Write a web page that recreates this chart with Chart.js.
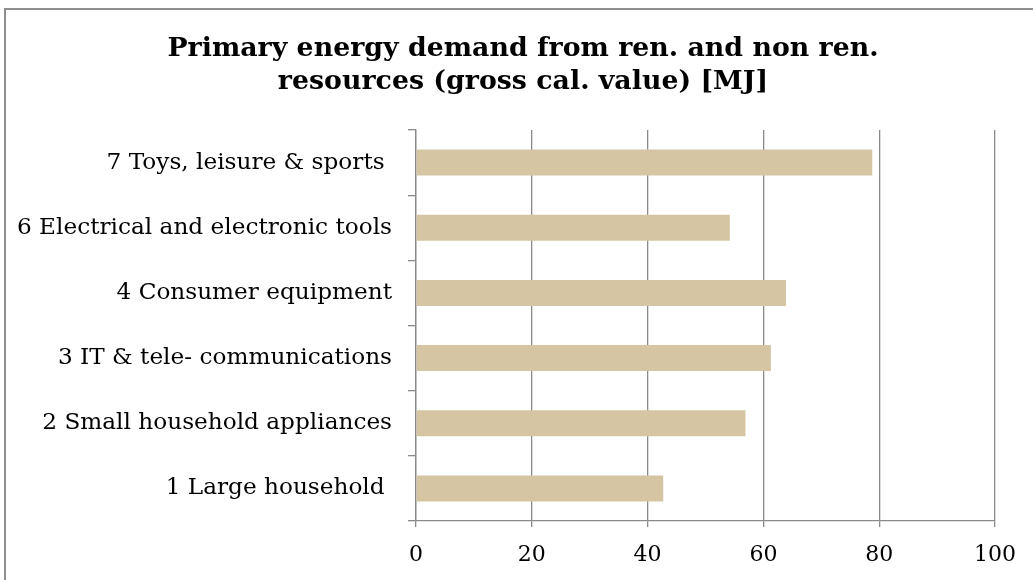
<!DOCTYPE html>
<html>
<head>
<meta charset="utf-8">
<script src="https://cdn.jsdelivr.net/npm/chart.js@4.4.0/dist/chart.umd.min.js"></script>
<style>
  html, body { margin: 0; padding: 0; background: #fff; overflow: hidden; }
  #frame { position: absolute; left: 4px; top: 8px; width: 1100px; height: 700px; border: 2px solid #8f8f8f; }
  #wrap { position: absolute; left: 0; top: 0; width: 1033px; height: 580px; }
</style>
</head>
<body>
<div id="frame"></div>
<div id="wrap"><canvas id="c" width="1033" height="580"></canvas></div>
<script>
const titleLines = ["Primary energy demand from ren. and non ren.", "resources (gross cal. value) [MJ]"];
const categories = [
  "7 Toys, leisure & sports ",
  "6 Electrical and electronic tools",
  "4 Consumer equipment",
  "3 IT & tele- communications",
  "2 Small household appliances",
  "1 Large household "
];
const values = [78.8, 54.2, 63.9, 61.3, 56.9, 42.7];
const xTicks = [0, 20, 40, 60, 80, 100];

const FONT = "'DejaVu Serif', Georgia, serif";
const GRID = '#8a8a8a';

new Chart(document.getElementById('c'), {
  type: 'bar',
  data: {
    labels: categories,
    datasets: [{
      data: values,
      backgroundColor: '#d5c5a3',
      borderWidth: 0,
      barPercentage: 0.4,
      categoryPercentage: 1.0
    }]
  },
  options: {
    indexAxis: 'y',
    responsive: false,
    animation: false,
    devicePixelRatio: 1,
    layout: { padding: { left: 13, right: 0, top: 0, bottom: 0 } },
    plugins: {
      legend: { display: false },
      tooltip: { enabled: false },
      title: {
        display: true,
        text: titleLines,
        color: '#000',
        font: { family: FONT, size: 26.8, weight: 'bold', lineHeight: 1.25 },
        padding: { top: 32, bottom: 31 }
      }
    },
    scales: {
      x: {
        type: 'linear',
        min: 0,
        max: 100,
        afterBuildTicks: (s) => { s.ticks = xTicks.map(v => ({ value: v })); },
        afterFit: (s) => { s.height = 59; },
        grid: { color: GRID, lineWidth: 1.3, tickLength: 6, drawTicks: true },
        border: { display: true, color: GRID, width: 1.3 },
        ticks: { color: '#000', font: { family: FONT, size: 22 }, padding: 15 }
      },
      y: {
        afterFit: (s) => { s.width = 403; },
        grid: { drawOnChartArea: false, drawTicks: true, tickLength: 8, color: GRID, lineWidth: 1.3, offset: true },
        border: { display: true, color: GRID, width: 1.3 },
        ticks: { color: '#000', font: { family: FONT, size: 23.2 }, padding: 16 }
      },
      spacer: {
        type: 'category',
        position: 'right',
        afterFit: (s) => { s.width = 38; },
        grid: { display: false, drawTicks: false },
        border: { display: false },
        ticks: { display: false }
      }
    }
  }
});
</script>
</body>
</html>
